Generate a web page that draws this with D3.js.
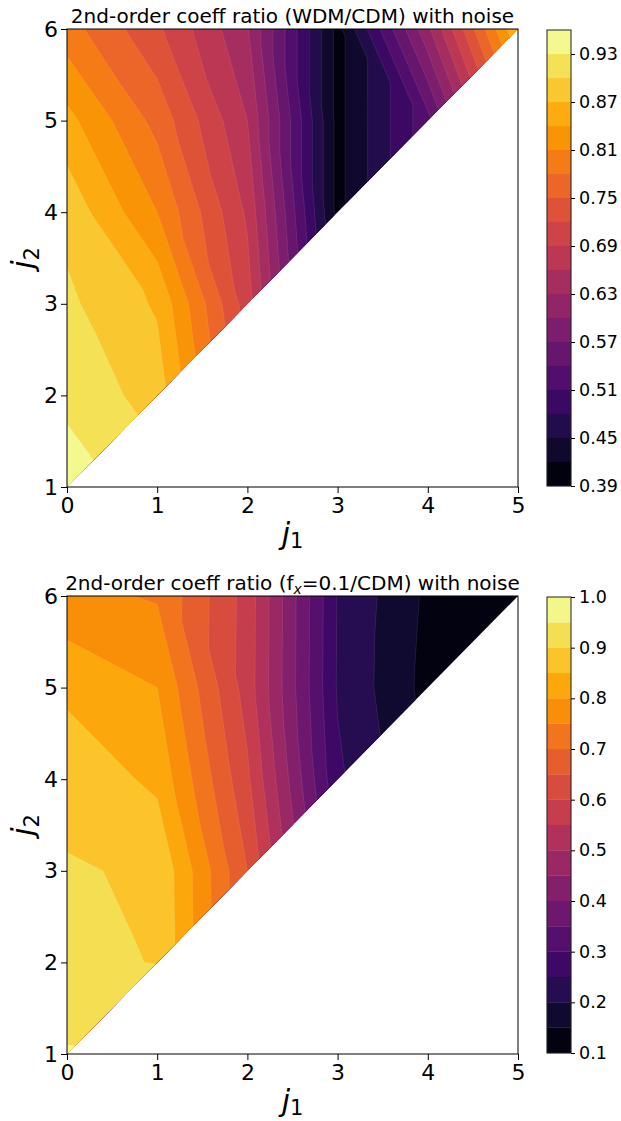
<!DOCTYPE html>
<html lang="en">

<head>
    <meta charset="UTF-8">
    <title>2nd-order coeff ratio with noise</title>
    <script src="https://d3js.org/d3.v7.min.js"></script>
    <style>
        * {
            margin: 0;
            padding: 0;
        }

        svg {
            display: block;
            font-family: "DejaVu Sans", sans-serif;
        }
    </style>
</head>

<body>
    <script>
        var width = 621;
        var height = 1121;

        var j1Ticks = [0, 1, 2, 3, 4, 5];
        var j2Ticks = [1, 2, 3, 4, 5, 6];

        // ratio on the grid, one row per j1, entries for j2 = j1+1 ... 6
        var wdmRatio = [
            [0.948, 0.922, 0.906, 0.891, 0.850, 0.793],
            [0.887, 0.866, 0.810, 0.770, 0.726],
            [0.705, 0.685, 0.660, 0.633],
            [0.410, 0.410, 0.410],
            [0.530, 0.623],
            [0.870]
        ];
        var fxRatio = [
            [0.955, 0.906, 0.903, 0.888, 0.838, 0.765],
            [0.899, 0.8955, 0.838, 0.800, 0.745],
            [0.650, 0.610, 0.578, 0.580],
            [0.260, 0.245, 0.247],
            [0.133, 0.140],
            [0.110]
        ];

        // contour levels and colorbar ticks
        var wdmLevels = [0.39, 0.42, 0.45, 0.48, 0.51, 0.54, 0.57, 0.60, 0.63, 0.66,
            0.69, 0.72, 0.75, 0.78, 0.81, 0.84, 0.87, 0.90, 0.93, 0.96];
        var wdmBarTicks = [0.39, 0.45, 0.51, 0.57, 0.63, 0.69, 0.75, 0.81, 0.87, 0.93];
        var fxLevels = [0.10, 0.15, 0.20, 0.25, 0.30, 0.35, 0.40, 0.45, 0.50, 0.55,
            0.60, 0.65, 0.70, 0.75, 0.80, 0.85, 0.90, 0.95, 1.00];
        var fxBarTicks = [0.1, 0.2, 0.3, 0.4, 0.5, 0.6, 0.7, 0.8, 0.9, 1.0];

        var svg = d3.select('body')
            .append('svg')
            .attr('width', width)
            .attr('height', height);

        function drawPanel(p) {
            var x = d3.scaleLinear().domain([0, 5]).range([67, 518]);
            var y = d3.scaleLinear().domain([1, 6]).range([p.bottom, p.top]);
            var g = svg.append('g');

            function val(a, b) {
                return p.data[a][b - a - 1];
            }

            // linear interpolation inside the triangles of the grid
            function interp(u, v) {
                u = Math.max(0, Math.min(5, u));
                v = Math.max(1, Math.min(6, v));
                if (v < u + 1) {
                    var m = (u + v - 1) / 2;
                    u = m;
                    v = m + 1;
                }
                var a = Math.min(Math.floor(u), 4);
                var b = Math.min(Math.floor(v), 5);
                if (b < a + 1) b = a + 1;
                var fx = u - a, fy = v - b;
                if (b === a + 1) {
                    // cell on the edge: only the upper-left triangle exists
                    return val(a, b) + fy * (val(a, b + 1) - val(a, b)) + fx * (val(a + 1, b + 1) - val(a, b + 1));
                }
                if (fx + fy <= 1) {
                    return val(a, b) + fx * (val(a + 1, b) - val(a, b)) + fy * (val(a, b + 1) - val(a, b));
                }
                return val(a + 1, b + 1) + (1 - fx) * (val(a, b + 1) - val(a + 1, b + 1)) + (1 - fy) * (val(a + 1, b) - val(a + 1, b + 1));
            }

            var x0 = x(0) - 3, y0 = y(6) - 3;
            var nx = Math.ceil(x(5) - x(0)) + 6;
            var ny = Math.ceil(y(1) - y(6)) + 6;
            var grid = new Array(nx * ny);
            for (var j = 0; j < ny; j++) {
                for (var i = 0; i < nx; i++) {
                    grid[i + j * nx] = interp(x.invert(x0 + i + 0.5), y.invert(y0 + j + 0.5));
                }
            }

            var contours = d3.contours()
                .size([nx, ny])
                .thresholds(p.levels.slice(0, -1))(grid);

            var lo = p.levels[0], hi = p.levels[p.levels.length - 1];
            function bandColor(k) {
                var mid = (p.levels[k] + p.levels[k + 1]) / 2;
                return d3.interpolateInferno((mid - lo) / (hi - lo));
            }

            // triangle clip
            g.append('clipPath')
                .attr('id', 'clip' + p.id)
                .append('path')
                .attr('d', 'M' + x(0) + ',' + y(1) + 'L' + x(0) + ',' + y(6) + 'L' + x(5) + ',' + y(6) + 'Z');

            g.append('g')
                .attr('clip-path', 'url(#clip' + p.id + ')')
                .append('g')
                .attr('transform', 'translate(' + x0 + ',' + y0 + ')')
                .selectAll('path')
                .data(contours)
                .join('path')
                .attr('d', d3.geoPath())
                .attr('fill', function (d, k) { return bandColor(k); })
                .attr('stroke', 'rgba(255,255,255,0.2)')
                .attr('stroke-width', 0.5);

            // axes
            var xAxis = g.append('g')
                .attr('transform', 'translate(0,' + y(1) + ')')
                .call(d3.axisBottom(x).tickValues(j1Ticks).tickSize(6).tickPadding(4).tickFormat(d3.format('d')));
            var yAxis = g.append('g')
                .attr('transform', 'translate(' + x(0) + ',0)')
                .call(d3.axisLeft(y).tickValues(j2Ticks).tickSize(6).tickPadding(3).tickFormat(d3.format('d')));
            [xAxis, yAxis].forEach(function (ax) {
                ax.select('.domain').remove();
                ax.attr('font-size', 22).attr('font-family', '"DejaVu Sans", sans-serif');
                ax.selectAll('.tick line').attr('stroke', '#000').attr('stroke-width', 1);
                ax.selectAll('.tick text').attr('fill', '#000');
            });

            g.append('rect')
                .attr('x', x(0))
                .attr('y', y(6))
                .attr('width', x(5) - x(0))
                .attr('height', y(1) - y(6))
                .attr('fill', 'none')
                .attr('stroke', '#000')
                .attr('stroke-width', 1);

            // title
            var title = g.append('text')
                .attr('x', (x(0) + x(5)) / 2)
                .attr('y', p.top - 6)
                .attr('text-anchor', 'middle')
                .attr('font-size', 20);
            p.title(title);

            // axis labels
            var xl = g.append('text')
                .attr('x', (x(0) + x(5)) / 2)
                .attr('y', p.bottom + 57)
                .attr('text-anchor', 'middle')
                .attr('font-size', 30);
            xl.append('tspan').attr('font-style', 'italic').text('j');
            xl.append('tspan').attr('font-size', 21).attr('dy', 4).text('1');

            var yl = g.append('text')
                .attr('transform', 'translate(33,' + (p.top + p.bottom) / 2 + ') rotate(-90)')
                .attr('text-anchor', 'middle')
                .attr('font-size', 30);
            yl.append('tspan').attr('font-style', 'italic').text('j');
            yl.append('tspan').attr('font-size', 21).attr('dy', 6).text('2');

            // colorbar
            var cb = d3.scaleLinear().domain([lo, hi]).range([p.bottom - 1, p.top + 1]);
            var cbX = 547, cbW = 24;
            g.append('g')
                .selectAll('rect')
                .data(p.levels.slice(0, -1))
                .join('rect')
                .attr('x', cbX)
                .attr('width', cbW)
                .attr('y', function (d, k) { return cb(p.levels[k + 1]); })
                .attr('height', function (d, k) { return cb(p.levels[k]) - cb(p.levels[k + 1]); })
                .attr('fill', function (d, k) { return bandColor(k); })
                .attr('stroke', function (d, k) { return bandColor(k); })
                .attr('stroke-width', 0.3);
            g.append('rect')
                .attr('x', cbX)
                .attr('y', cb(hi))
                .attr('width', cbW)
                .attr('height', cb(lo) - cb(hi))
                .attr('fill', 'none')
                .attr('stroke', '#222')
                .attr('stroke-width', 1);
            var cbAxis = g.append('g')
                .attr('transform', 'translate(' + (cbX + cbW) + ',0)')
                .call(d3.axisRight(cb).tickValues(p.barTicks).tickSize(4).tickPadding(4).tickFormat(d3.format(p.fmt)));
            cbAxis.select('.domain').remove();
            cbAxis.attr('font-size', 17.5).attr('font-family', '"DejaVu Sans", sans-serif');
            cbAxis.selectAll('.tick line').attr('stroke', '#000');
            cbAxis.selectAll('.tick text').attr('fill', '#000');
        }

        drawPanel({
            id: 'wdm',
            data: wdmRatio,
            levels: wdmLevels,
            barTicks: wdmBarTicks,
            fmt: '.2f',
            top: 29,
            bottom: 487,
            title: function (t) {
                t.text('2nd-order coeff ratio (WDM/CDM) with noise');
            }
        });

        drawPanel({
            id: 'fx',
            data: fxRatio,
            levels: fxLevels,
            barTicks: fxBarTicks,
            fmt: '.1f',
            top: 596,
            bottom: 1054,
            title: function (t) {
                t.append('tspan').text('2nd-order coeff ratio (f');
                t.append('tspan').attr('font-style', 'italic').attr('font-size', 14).attr('dy', 4).text('x');
                t.append('tspan').attr('dy', -4).text('=0.1/CDM) with noise');
            }
        });
    </script>
</body>

</html>
